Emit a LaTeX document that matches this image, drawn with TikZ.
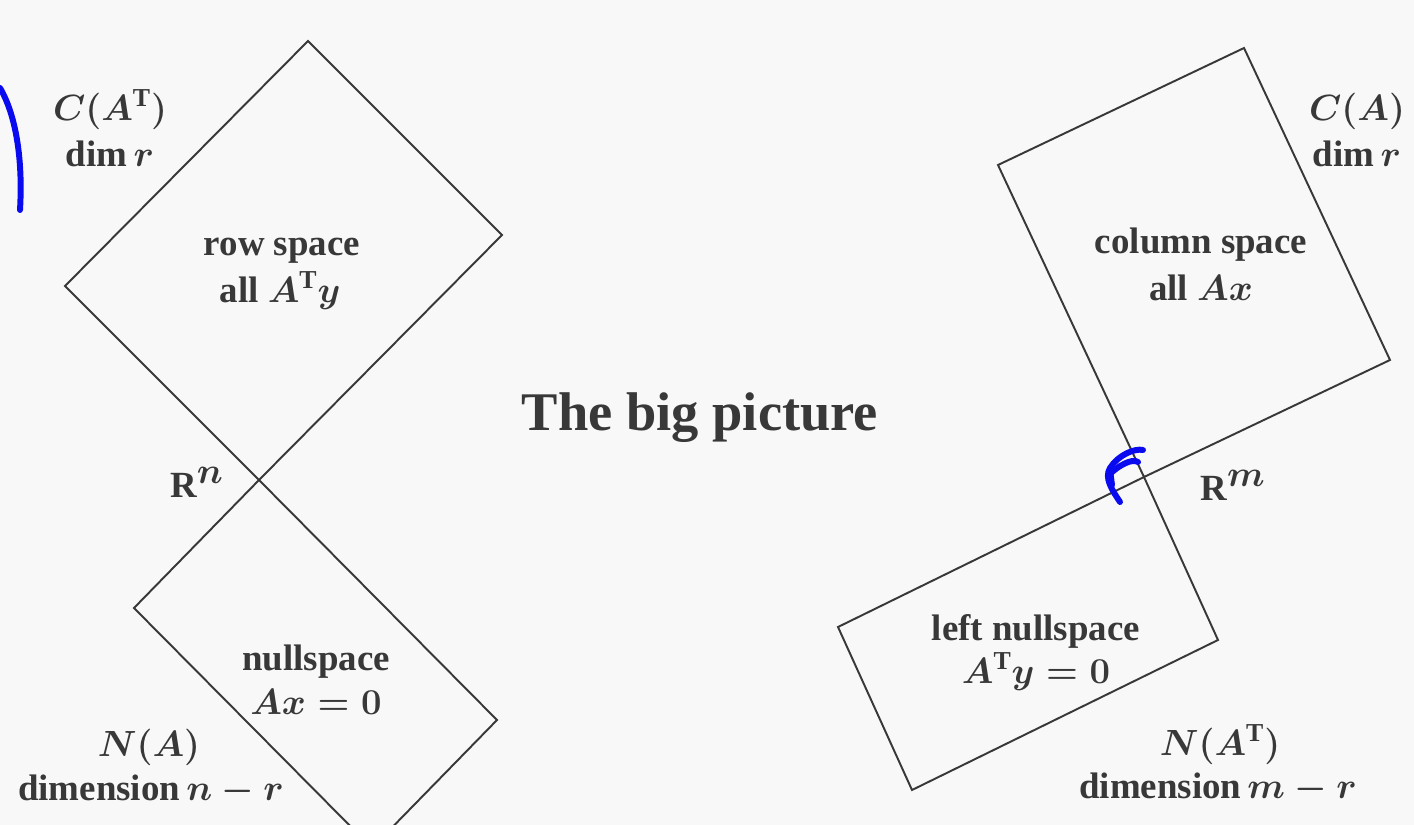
\documentclass[tikz,border=0pt]{standalone}
\usepackage{fontspec}
\setmainfont{Liberation Serif}
\definecolor{ink}{HTML}{383838}
\definecolor{paper}{HTML}{F8F8F8}
\definecolor{pen}{HTML}{0A0AF0}
\tikzset{
  space/.style={draw=ink, line width=1.1pt, line join=miter},
  lbl/.style={text=ink, anchor=base, inner sep=0pt, font=\fontsize{21}{26}\selectfont\bfseries\boldmath},
  title/.style={text=ink, anchor=base, inner sep=0pt, font=\fontsize{31}{36}\selectfont\bfseries},
  scribble/.style={draw=pen, line width=3.4pt, line cap=round, line join=round}
}
\begin{document}
\begin{tikzpicture}[x=0.02cm, y=-0.02cm]
            \fill[paper] (0,0) rectangle (1414,825);
            \useasboundingbox (0,0) rectangle (1414,825);
            \clip (0,0) rectangle (1414,825);
            % left side: R^n
            \draw[space] (65,286) -- (308,41) -- (502,235) -- (259,480) -- cycle;
            \draw[space] (259,480) -- (497,720) -- (372,848) -- (134,608) -- cycle;
            % right side: R^m
            \draw[space] (998,165) -- (1244,48) -- (1390,360) -- (1144,477) -- cycle;
            \draw[space] (1144,477) -- (1218,640) -- (912,790) -- (838,627) -- cycle;
            % labels
            \node[lbl] (rowdim) at (110,120) {$C(A^{\mathrm{T}})$};
            \node[lbl] (rowr) at (110,166) {dim\,$r$};
            \node[lbl] (rowname) at (282,255) {row space};
            \node[lbl] (rowvec) at (280,302) {all $A^{\mathrm{T}}y$};
            \node[lbl, anchor=base west] (rn) at (170,497) {R$^{\textstyle n}$};
            \node[lbl] (nullname) at (316,670) {nullspace};
            \node[lbl] (nulleq) at (316,714) {$Ax=0$};
            \node[lbl] (nulldim) at (149,756) {$N(A)$};
            \node[lbl] (nullr) at (151,800) {dimension\,$n-r$};
            \node[title] (big) at (700,430) {The big picture};
            \node[lbl] (coldim) at (1357,120) {$C(A)$};
            \node[lbl] (colr) at (1357,166) {dim\,$r$};
            \node[lbl] (colname) at (1201,253) {column space};
            \node[lbl] (colvec) at (1201,300) {all $Ax$};
            \node[lbl, anchor=base west] (rm) at (1200,500) {R$^{\textstyle m}$};
            \node[lbl] (lnullname) at (1036,640) {left nullspace};
            \node[lbl] (lnulleq) at (1036,683) {$A^{\mathrm{T}}y=0$};
            \node[lbl] (lnulldim) at (1220,755) {$N(A^{\mathrm{T}})$};
            \node[lbl] (lnullr) at (1218,798) {dimension\,$m-r$};
            % pen marks
            \draw[scribble] (0,88) .. controls (16,115) and (23,160) .. (20,210);
            \draw[scribble] (1120,502) .. controls (1112,490) and (1104,478) .. (1110,468)
              .. controls (1118,455) and (1135,448) .. (1143,450);
            \draw[scribble] (1110,474) .. controls (1118,466) and (1132,458) .. (1138,462);
            \draw[scribble] (1112,485) -- (1110,470);
\end{tikzpicture}
\end{document}
